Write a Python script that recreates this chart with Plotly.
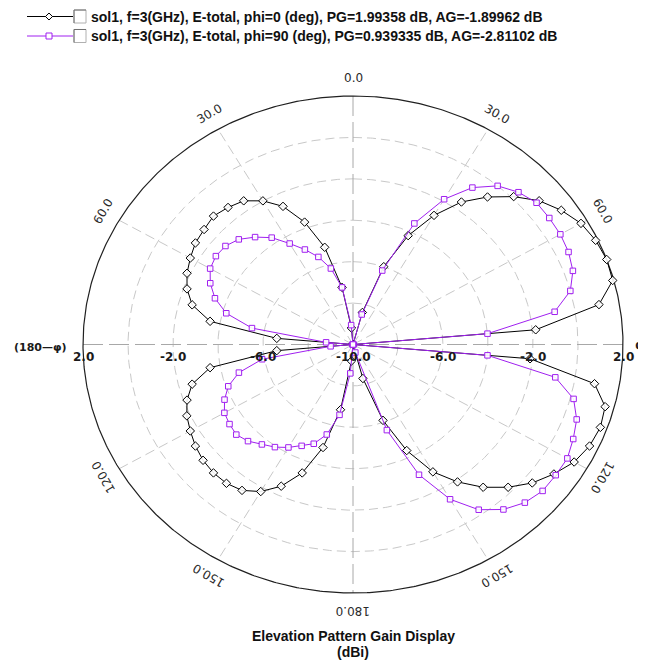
import numpy as np
import plotly.graph_objects as go

# ---------------- data ----------------
theta_deg = list(range(-180, 181, 5))

gain_phi0 = [
    -10.0, -9.2, -6.8, -4.85, -3.4, -2.45, -1.8, -1.4, -1.25, -1.23,
    -1.3, -1.45, -1.65, -1.85, -2.15, -2.6, -3.55, -6.6, -10.0,
    -6.6, -3.55, -2.6, -2.15, -1.86, -1.65, -1.45, -1.36, -1.23, -1.36,
    -1.53, -1.99, -2.64, -3.71, -5.14, -7.2, -9.2, -10.0,
    -10.0, -10.0, -8.4, -6.0, -4.2, -2.8, -1.6, -0.7, 0.1, 0.8,
    1.3, 1.7, 1.9, 2.0, 1.95, 1.1, -1.85, -10.0,
    -2.1, 0.9, 1.6, 1.7, 1.6, 1.35, 0.9, 0.4, -0.25, -1.0,
    -1.9, -2.9, -4.35, -6.1, -8.3, -10.0, -10.0, -10.0,
]

gain_phi90 = [
    -10.0, -8.6, -6.55, -5.5, -4.9, -4.6, -4.26, -3.95, -3.7, -3.4,
    -3.23, -3.3, -3.4, -3.7, -4.1, -4.75, -5.9, -9.0, -10.0,
    -8.8, -5.44, -4.17, -3.47, -3.0, -2.67, -2.56, -2.6, -2.82, -3.23,
    -3.7, -4.37, -4.94, -5.5, -6.2, -7.2, -9.06, -10.0,
    -10.0, -10.0, -8.5, -6.2, -3.55, -1.9, -0.75, 0.0, 0.4, 0.65,
    0.65, 0.64, 0.57, 0.4, 0.0, -0.9, -4.0, -10.0,
    -4.0, -0.87, 0.15, 0.58, 0.8, 1.0, 1.0, 1.0, 0.8, 0.4,
    -0.26, -1.37, -3.06, -5.6, -9.6, -10.0, -10.0, -10.0,
]

series_names = [
    "sol1, f=3(GHz), E-total, phi=0 (deg), PG=1.99358 dB, AG=-1.89962 dB",
    "sol1, f=3(GHz), E-total, phi=90 (deg), PG=0.939335 dB, AG=-2.81102 dB",
]
series_colors = ["#000000", "#a020f0"]

radial_min, radial_max = -10.0, 2.0
radial_grid = [-8.0, -6.0, -4.0, -2.0, 0.0]
radial_tick_values = [2.0, -2.0, -6.0, -10.0]
radial_tick_labels = ["2.0", "-2.0", "-6.0", "-10.0"]
angle_tick_values = [0, 30, 60, 120, 150, 180, -30, -60, -120, -150]
angle_tick_labels = ["0.0", "30.0", "60.0", "120.0", "150.0", "180.0",
                     "30.0", "60.0", "120.0", "150.0"]

title_lines = ["Elevation Pattern Gain Display", "(dBi)"]

# ---------------- geometry (elliptical polar frame) ----------------
OFF = 8.0                              # page body margin
W, H = 638, 654
CX, CY = 353.0 - OFF, 344.5 - OFF      # centre in figure pixels
SPAN = radial_max - radial_min
SX = 270.0 / SPAN                      # px per dB horizontally
SY = 248.5 / SPAN                      # px per dB vertically


def to_xy(theta, r):
    rr = np.clip(np.asarray(r, dtype=float) - radial_min, 0, None)
    t = np.radians(np.asarray(theta, dtype=float))
    return rr * np.sin(t), rr * np.cos(t)


def px(xp, yp):
    """screen pixel (reference coords) -> data coords"""
    return (xp - OFF - CX) / SX, (CY - (yp - OFF)) / SY


def pp(xp, yp):
    """screen pixel (reference coords) -> paper coords"""
    return (xp - OFF) / W, 1 - (yp - OFF) / H


fig = go.Figure()

GRID = "#c8c8c8"
AXIS = "#a8a8a8"

t_dense = np.linspace(0, 360, 721)
for rv in radial_grid:
    gx, gy = to_xy(t_dense, np.full_like(t_dense, rv))
    fig.add_trace(go.Scatter(x=gx, y=gy, mode="lines", hoverinfo="skip",
                             line=dict(color=GRID, width=1, dash="9px,5px"),
                             showlegend=False))

for a in [30, 60, 120, 150, 210, 240, 300, 330]:
    sx_, sy_ = to_xy([a, a], [radial_min, radial_max])
    fig.add_trace(go.Scatter(x=sx_, y=sy_, mode="lines", hoverinfo="skip",
                             line=dict(color=GRID, width=1, dash="10px,5px"),
                             showlegend=False))

for a in [0, 90]:
    ax_, ay_ = to_xy([a, a + 180], [radial_max, radial_max])
    fig.add_trace(go.Scatter(x=ax_, y=ay_, mode="lines", hoverinfo="skip",
                             line=dict(color=AXIS, width=1, dash="20px,6px"),
                             showlegend=False))

ox, oy = to_xy(t_dense, np.full_like(t_dense, radial_max))
fig.add_trace(go.Scatter(x=ox, y=oy, mode="lines", hoverinfo="skip",
                         line=dict(color="#202020", width=1.2),
                         showlegend=False))

symbols = ["diamond", "square"]
sizes = [6.5, 5.5]
for gains, name, col, sym, sz in zip([gain_phi0, gain_phi90], series_names,
                                     series_colors, symbols, sizes):
    dx, dy = to_xy(theta_deg, gains)
    fig.add_trace(go.Scatter(
        x=dx, y=dy, mode="lines+markers", name=name,
        line=dict(color=col, width=1),
        marker=dict(symbol=sym, size=sz, color="rgba(255,255,255,0.9)",
                    line=dict(color=col, width=1)),
        showlegend=False,
    ))

annotations = []
LABEL_FONT = dict(family="DejaVu Sans", size=12, color="#2a2a2a")

REF_CX, REF_CY = 353.0, 344.5
for v, lab in zip(radial_tick_values, radial_tick_labels):
    rr = v - radial_min
    for side in ([1, -1] if rr > 0 else [1]):
        x, y = px(REF_CX + side * rr * SX, 357)
        annotations.append(dict(x=x, y=y, xref="x", yref="y",
                                text="<b>" + lab + "</b>",
                                showarrow=False,
                                font=dict(family="DejaVu Sans", size=12,
                                          color="#1a1a1a"),
                                xanchor="center", yanchor="middle"))

D = 18.0
for a, lab in zip(angle_tick_values, angle_tick_labels):
    t = np.radians(a)
    x, y = px(REF_CX + (270 + D) * np.sin(t), REF_CY - (248.5 + D) * np.cos(t))
    annotations.append(dict(x=x, y=y, xref="x", yref="y", text=lab,
                            showarrow=False, textangle=a, font=LABEL_FONT,
                            xanchor="center", yanchor="middle"))

x, y = px(40, 347)
annotations.append(dict(x=x, y=y, xref="x", yref="y", text="<b>(180—φ)</b>",
                        showarrow=False,
                        font=dict(family="DejaVu Sans", size=11, color="#1a1a1a"),
                        xanchor="center", yanchor="middle"))
x, y = px(639, 345)
annotations.append(dict(x=x, y=y, xref="x", yref="y", text="<b>φ</b>",
                        showarrow=False,
                        font=dict(family="DejaVu Sans", size=12, color="#1a1a1a"),
                        xanchor="center", yanchor="middle"))

for line, yp in zip(title_lines, [636, 651.5]):
    x, y = pp(353, yp)
    annotations.append(dict(x=x, y=y, xref="paper", yref="paper",
                            text="<b>" + line + "</b>", showarrow=False,
                            font=dict(family="Liberation Sans", size=14,
                                      color="#111111"),
                            xanchor="center", yanchor="middle"))

shapes = []
for i, (name, col, sym) in enumerate(zip(series_names, series_colors, symbols)):
    yp = 16.5 + 19.5 * i
    x0, yy = pp(27, yp)
    x1, _ = pp(73, yp)
    shapes.append(dict(type="line", xref="paper", yref="paper",
                       x0=x0, x1=x1, y0=yy, y1=yy,
                       line=dict(color=col, width=1)))
    mx = 49
    if sym == "diamond":
        pts = [pp(mx - 3.5, yp), pp(mx, yp - 3.5), pp(mx + 3.5, yp), pp(mx, yp + 3.5)]
        path = "M " + " L ".join("{:.5f},{:.5f}".format(a, b) for a, b in pts) + " Z"
        shapes.append(dict(type="path", xref="paper", yref="paper", path=path,
                           fillcolor="white", line=dict(color=col, width=1)))
    else:
        a0, b0 = pp(mx - 3, yp + 3)
        a1, b1 = pp(mx + 3, yp - 3)
        shapes.append(dict(type="rect", xref="paper", yref="paper",
                           x0=a0, x1=a1, y0=b0, y1=b1,
                           fillcolor="white", line=dict(color=col, width=1)))
    # checkbox (sunken look)
    a0, b0 = pp(74, yp + 6.5)
    a1, b1 = pp(86, yp - 6.5)
    shapes.append(dict(type="rect", xref="paper", yref="paper",
                       x0=a0, x1=a1, y0=b0, y1=b1, fillcolor="white",
                       line=dict(color="#b0b0b0", width=1)))
    c0, d0 = pp(74, yp + 6.5)
    c1, d1 = pp(74, yp - 6.5)
    c2, d2 = pp(86, yp - 6.5)
    shapes.append(dict(type="path", xref="paper", yref="paper",
                       path="M {:.5f},{:.5f} L {:.5f},{:.5f} L {:.5f},{:.5f}".format(
                           c0, d0, c1, d1, c2, d2),
                       line=dict(color="#707070", width=1)))
    tx, ty = pp(89, yp)
    annotations.append(dict(x=tx, y=ty, xref="paper", yref="paper",
                            text="<b>" + name + "</b>", showarrow=False,
                            font=dict(family="Liberation Sans", size=14,
                                      color="#111111"),
                            xanchor="left", yanchor="middle"))

fig.update_layout(
    width=W, height=H, autosize=False,
    margin=dict(l=0, r=0, t=0, b=0, pad=0),
    paper_bgcolor="white", plot_bgcolor="white",
    xaxis=dict(range=[-CX / SX, (W - CX) / SX], visible=False, fixedrange=True),
    yaxis=dict(range=[(CY - H) / SY, CY / SY], visible=False, fixedrange=True),
    showlegend=False,
    annotations=annotations,
    shapes=shapes,
)

fig.write_html("out.html")
